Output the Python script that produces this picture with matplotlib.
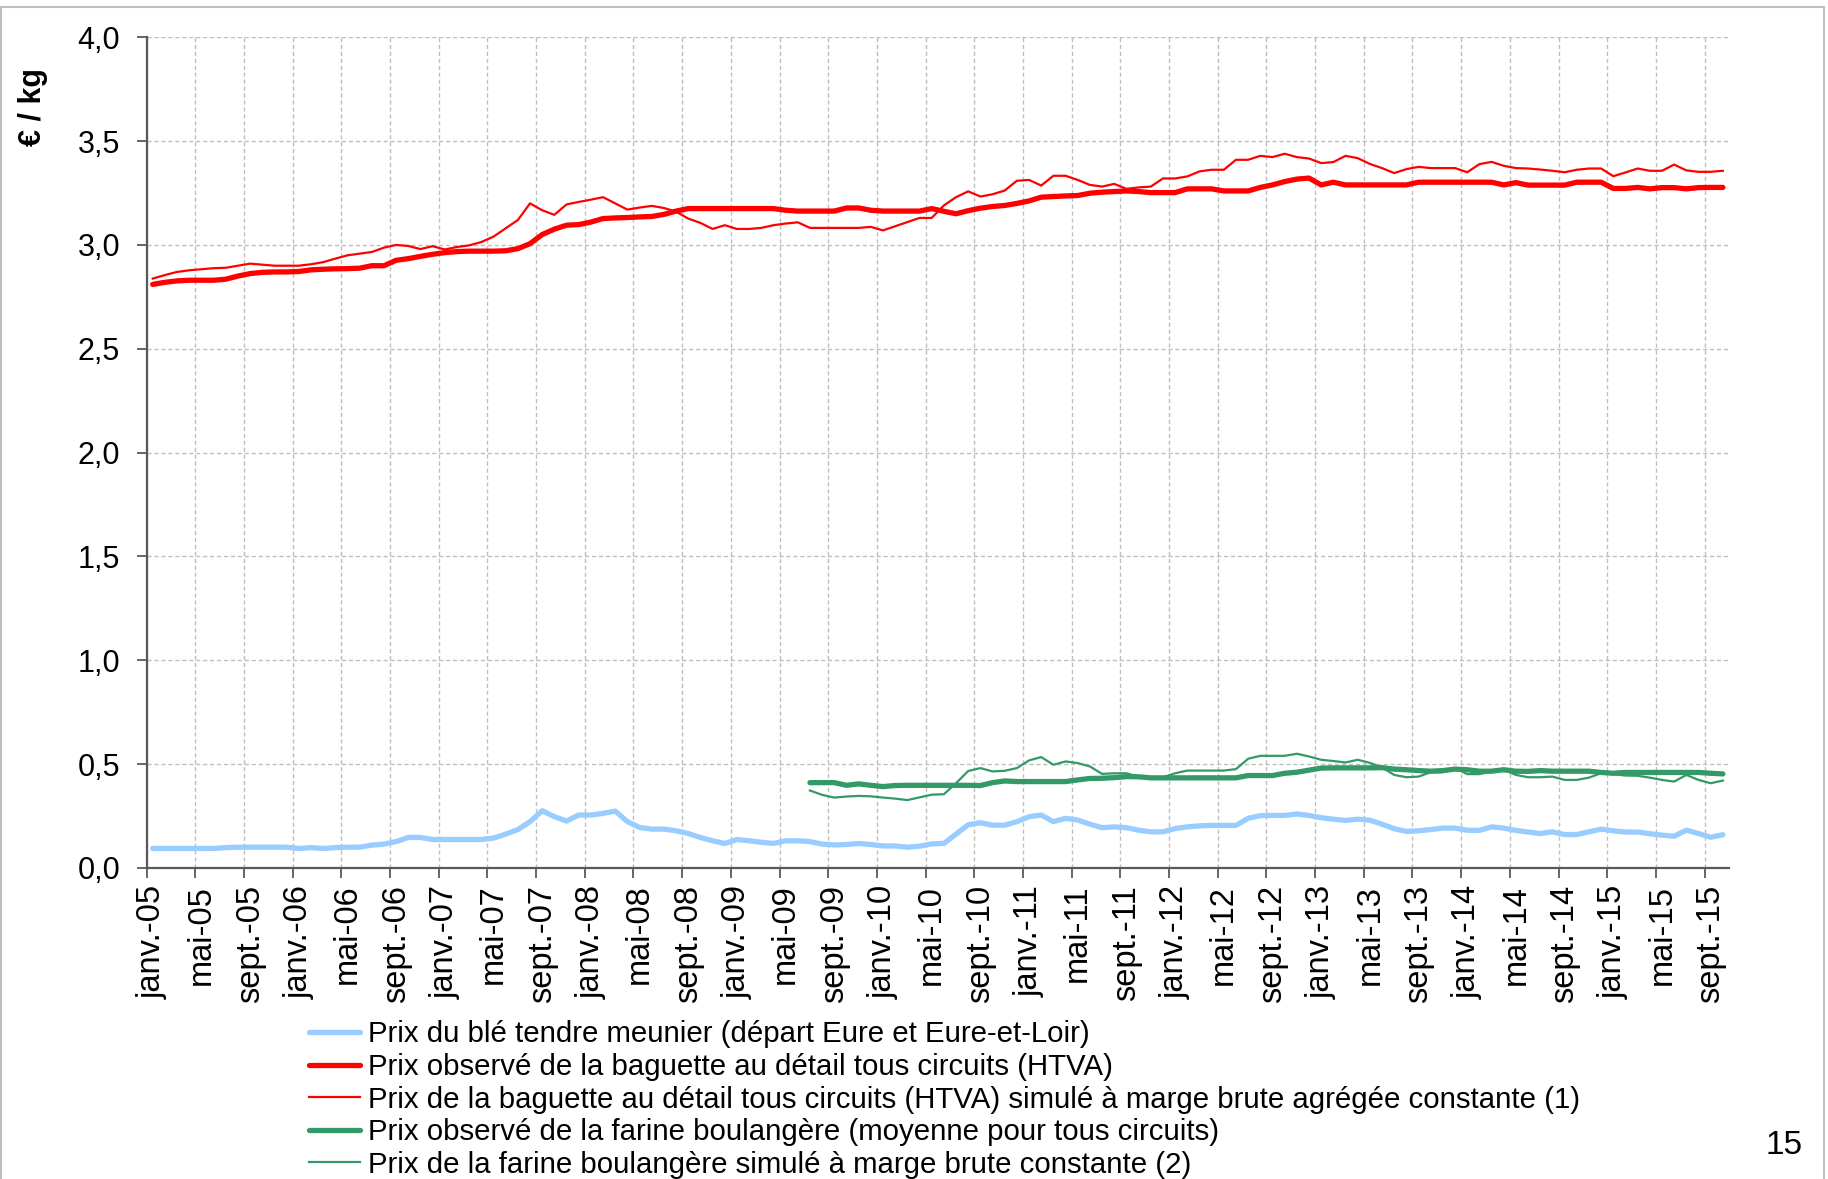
import numpy as np
import matplotlib
matplotlib.use("Agg")
import matplotlib.pyplot as plt
from matplotlib.patches import Rectangle

plt.rcParams['font.family'] = ['Liberation Sans', 'DejaVu Sans']

# --- données mensuelles, janv. 2005 -> oct. 2015 (130 mois) ---
tick_labels = [
    "janv.-05", "mai-05", "sept.-05", "janv.-06", "mai-06", "sept.-06",
    "janv.-07", "mai-07", "sept.-07", "janv.-08", "mai-08", "sept.-08",
    "janv.-09", "mai-09", "sept.-09", "janv.-10", "mai-10", "sept.-10",
    "janv.-11", "mai-11", "sept.-11", "janv.-12", "mai-12", "sept.-12",
    "janv.-13", "mai-13", "sept.-13", "janv.-14", "mai-14", "sept.-14",
    "janv.-15", "mai-15", "sept.-15",
]

ble = [
    0.094, 0.094, 0.094, 0.094, 0.094, 0.094, 0.098, 0.100, 0.100, 0.100,
    0.100, 0.100, 0.094, 0.098, 0.094, 0.098, 0.100, 0.100, 0.110, 0.115,
    0.127, 0.147, 0.147, 0.137, 0.137, 0.137, 0.137, 0.137, 0.144, 0.163,
    0.185, 0.223, 0.276, 0.247, 0.226, 0.255, 0.255, 0.263, 0.274, 0.223,
    0.195, 0.187, 0.187, 0.179, 0.166, 0.147, 0.131, 0.118, 0.137, 0.131,
    0.124, 0.118, 0.131, 0.131, 0.127, 0.115, 0.111, 0.113, 0.118, 0.113,
    0.106, 0.106, 0.100, 0.105, 0.116, 0.118, 0.163, 0.208, 0.218, 0.206,
    0.206, 0.223, 0.247, 0.255, 0.223, 0.239, 0.231, 0.211, 0.194, 0.198,
    0.194, 0.182, 0.174, 0.174, 0.190, 0.198, 0.203, 0.205, 0.205, 0.205,
    0.239, 0.252, 0.253, 0.253, 0.260, 0.253, 0.242, 0.235, 0.229, 0.235,
    0.230, 0.211, 0.189, 0.176, 0.179, 0.185, 0.192, 0.192, 0.182, 0.181,
    0.198, 0.192, 0.181, 0.173, 0.166, 0.174, 0.161, 0.161, 0.174, 0.187,
    0.179, 0.173, 0.173, 0.165, 0.158, 0.153, 0.182, 0.166, 0.148, 0.160,
]

baguette_obs = [
    2.810, 2.820, 2.827, 2.830, 2.830, 2.830, 2.835, 2.850, 2.862, 2.868,
    2.870, 2.870, 2.872, 2.880, 2.883, 2.885, 2.886, 2.888, 2.900, 2.900,
    2.926, 2.934, 2.945, 2.955, 2.963, 2.968, 2.970, 2.970, 2.970, 2.972,
    2.982, 3.006, 3.050, 3.076, 3.095, 3.098, 3.110, 3.127, 3.130, 3.132,
    3.135, 3.137, 3.147, 3.163, 3.175, 3.175, 3.175, 3.175, 3.175, 3.175,
    3.175, 3.175, 3.167, 3.163, 3.163, 3.163, 3.163, 3.178, 3.178, 3.167,
    3.163, 3.163, 3.163, 3.163, 3.175, 3.162, 3.150, 3.165, 3.177, 3.185,
    3.190, 3.200, 3.212, 3.230, 3.233, 3.236, 3.238, 3.249, 3.254, 3.257,
    3.260, 3.257, 3.252, 3.252, 3.252, 3.270, 3.270, 3.270, 3.260, 3.260,
    3.260, 3.277, 3.289, 3.305, 3.317, 3.322, 3.289, 3.302, 3.289, 3.289,
    3.289, 3.289, 3.289, 3.289, 3.302, 3.302, 3.302, 3.302, 3.302, 3.302,
    3.302, 3.289, 3.300, 3.288, 3.288, 3.288, 3.288, 3.302, 3.302, 3.302,
    3.272, 3.272, 3.277, 3.270, 3.276, 3.276, 3.270, 3.276, 3.277, 3.277,
]

baguette_sim = [
    2.838, 2.855, 2.870, 2.878, 2.883, 2.888, 2.890, 2.900, 2.910, 2.905,
    2.900, 2.900, 2.900, 2.907, 2.917, 2.934, 2.950, 2.958, 2.966, 2.987,
    3.000, 2.995, 2.980, 2.994, 2.978, 2.990, 2.998, 3.014, 3.040, 3.080,
    3.120, 3.200, 3.167, 3.145, 3.195, 3.207, 3.218, 3.230, 3.200, 3.170,
    3.180, 3.188, 3.178, 3.160, 3.127, 3.106, 3.077, 3.095, 3.077, 3.077,
    3.082, 3.095, 3.103, 3.109, 3.082, 3.082, 3.082, 3.082, 3.082, 3.087,
    3.070, 3.090, 3.110, 3.130, 3.130, 3.190, 3.230, 3.258, 3.233, 3.244,
    3.262, 3.309, 3.313, 3.286, 3.333, 3.333, 3.313, 3.289, 3.281, 3.294,
    3.270, 3.277, 3.281, 3.320, 3.320, 3.330, 3.354, 3.362, 3.362, 3.410,
    3.410, 3.429, 3.423, 3.439, 3.423, 3.416, 3.394, 3.399, 3.429, 3.418,
    3.390, 3.370, 3.346, 3.365, 3.376, 3.370, 3.370, 3.370, 3.350, 3.389,
    3.400, 3.381, 3.370, 3.368, 3.363, 3.357, 3.350, 3.362, 3.368, 3.368,
    3.331, 3.349, 3.368, 3.357, 3.357, 3.387, 3.359, 3.352, 3.352, 3.357,
]

# farine : pas de données avant juillet 2009 (mois 54)
farine_debut = 54
farine_obs = [
    0.411, 0.411, 0.411, 0.398, 0.405, 0.398, 0.392, 0.397, 0.398, 0.398,
    0.398, 0.398, 0.398, 0.398, 0.397, 0.411, 0.419, 0.416, 0.416, 0.416,
    0.416, 0.416, 0.424, 0.431, 0.432, 0.435, 0.440, 0.439, 0.434, 0.434,
    0.434, 0.434, 0.434, 0.434, 0.434, 0.434, 0.445, 0.445, 0.445, 0.456,
    0.461, 0.471, 0.481, 0.482, 0.482, 0.482, 0.482, 0.483, 0.476, 0.473,
    0.469, 0.466, 0.469, 0.476, 0.473, 0.466, 0.466, 0.473, 0.466, 0.465,
    0.469, 0.466, 0.466, 0.466, 0.466, 0.460, 0.456, 0.460, 0.460, 0.460,
    0.460, 0.460, 0.460, 0.460, 0.456, 0.453,
]
farine_sim = [
    0.373, 0.352, 0.339, 0.344, 0.347, 0.345, 0.339, 0.334, 0.327, 0.340,
    0.353, 0.355, 0.408, 0.467, 0.481, 0.465, 0.468, 0.481, 0.518, 0.534,
    0.497, 0.513, 0.505, 0.489, 0.453, 0.456, 0.456, 0.440, 0.435, 0.437,
    0.456, 0.469, 0.469, 0.469, 0.469, 0.476, 0.526, 0.540, 0.540, 0.540,
    0.550, 0.537, 0.521, 0.515, 0.508, 0.521, 0.506, 0.484, 0.448, 0.437,
    0.440, 0.461, 0.461, 0.481, 0.452, 0.452, 0.465, 0.473, 0.448, 0.437,
    0.437, 0.440, 0.424, 0.424, 0.435, 0.456, 0.452, 0.445, 0.444, 0.435,
    0.424, 0.416, 0.448, 0.424, 0.408, 0.421,
]

labels = [
    "Prix du blé tendre meunier (départ Eure et Eure-et-Loir)",
    "Prix observé de la baguette au détail tous circuits (HTVA)",
    "Prix de la baguette au détail tous circuits (HTVA) simulé à marge brute agrégée constante (1)",
    "Prix observé de la farine boulangère (moyenne pour tous circuits)",
    "Prix de la farine boulangère simulé à marge brute constante (2)",
]

n = len(ble)
x = np.arange(n) + 0.5          # points au milieu de chaque mois
xf = np.arange(farine_debut, n) + 0.5

fig = plt.figure(figsize=(18.28, 11.79), dpi=100)
ax = fig.add_axes([0.0802, 0.2638, 0.8656, 0.7046])

bleu = "#99CCFF"
rouge = "#FF0000"
vert = "#339966"

ax.plot(x, ble, color=bleu, lw=3.8, solid_capstyle='round', label=labels[0])
ax.plot(x, baguette_obs, color=rouge, lw=3.8, solid_capstyle='round', label=labels[1])
ax.plot(x, baguette_sim, color=rouge, lw=1.6, label=labels[2])
ax.plot(xf, farine_obs, color=vert, lw=3.8, solid_capstyle='round', label=labels[3])
ax.plot(xf, farine_sim, color=vert, lw=1.6, label=labels[4])

ax.set_xlim(0, n)
ax.set_ylim(0, 4.0)

# grille
ax.set_yticks(np.arange(0, 4.01, 0.5))
ax.set_yticklabels([f"{v:.1f}".replace(".", ",") for v in np.arange(0, 4.01, 0.5)])
ax.set_xticks(np.arange(0, n, 4))
ax.set_xticks(np.arange(0, n, 4) + 0.5, minor=True)
ax.set_xticklabels([])
ax.set_xticklabels(tick_labels, minor=True, rotation=90)
ax.tick_params(axis='x', which='minor', length=0, pad=12, labelsize=23.5)
ax.tick_params(axis='x', which='major', length=7, width=1.3, color='#595959', direction='out')
ax.tick_params(axis='y', length=7, width=1.3, color='#595959', pad=12, labelsize=22)

ax.grid(True, which='major', color='#BFBFBF', linestyle=(0, (3, 2)), linewidth=1.0)
ax.set_axisbelow(True)

for s in ['top', 'right']:
    ax.spines[s].set_visible(False)
for s in ['left', 'bottom']:
    ax.spines[s].set_color('#595959')
    ax.spines[s].set_linewidth(1.6)

fig.text(0.018, 0.909, "€ / kg", rotation=90, fontsize=22, fontweight='bold',
         ha='center', va='center')

fig.legend(loc='upper left', bbox_to_anchor=(0.169, 0.1345), frameon=False,
           fontsize=21.2, handlelength=1.75, handletextpad=0.25,
           labelspacing=0.155, borderpad=0, borderaxespad=0)

fig.text(0.976, 0.028, "15", fontsize=24, ha='center', va='center')

# cadre gris autour de l'image
fig.patches.append(Rectangle((0.0006, -0.01), 0.9974, 1.004, transform=fig.transFigure,
                             fill=False, edgecolor='#BFBFBF', linewidth=1.5))

fig.savefig("out.png", dpi=100)
